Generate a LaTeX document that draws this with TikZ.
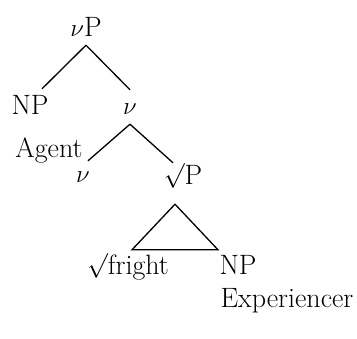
\documentclass[tikz,border=0pt]{standalone}
\usepackage{tikz}

\tikzset{
    cat/.style={anchor=base, inner sep=7pt, text height=19pt, text depth=0pt, font=\fontsize{28}{32}\selectfont},
    branch/.style={line width=1.3pt},
}
\newcommand{\rt}{\raisebox{3pt}{$\surd$}}

\begin{document}
\begin{tikzpicture}[x=1pt, y=-1pt]
    \useasboundingbox (0,0) rectangle (357,339);

    % Labels of the tree
    \node[cat] (vP) at (86,37) {$\nu$P};
    \node[cat] (NPa) at (30,115) {NP};
    \node[cat] (vbar) at (130,115) {$\nu$};
    \node[cat] (agent) at (49,158) {Agent};
    \node[cat] (vhead) at (83,183) {$\nu$};
    \node[cat] (rootP) at (183,185) {\rt P};
    \node[cat] (root) at (128,275) {\rt fright};
    \node[cat] (NPb) at (238,275) {NP};
    \node[cat] (exp) at (287,308) {Experiencer};

    % Branches
    \draw[branch] ([yshift=-1pt]vP.south) -- ([xshift=12pt]NPa.north);
    \draw[branch] ([yshift=-1pt]vP.south) -- ([yshift=-1pt]vbar.north);
    \draw[branch] ([yshift=-2pt]vbar.south) -- ([xshift=5pt,yshift=-4pt]vhead.north);
    \draw[branch] ([yshift=-2pt]vbar.south) -- ([xshift=-10pt,yshift=-4pt]rootP.north);

    % Triangle under the root phrase
    \draw[branch, line join=miter] ([xshift=-8pt,yshift=-12pt]rootP.south)
        -- ([xshift=4pt,yshift=-1pt]root.north)
        -- ([xshift=-20pt,yshift=-1pt]NPb.north) -- cycle;
\end{tikzpicture}
\end{document}
